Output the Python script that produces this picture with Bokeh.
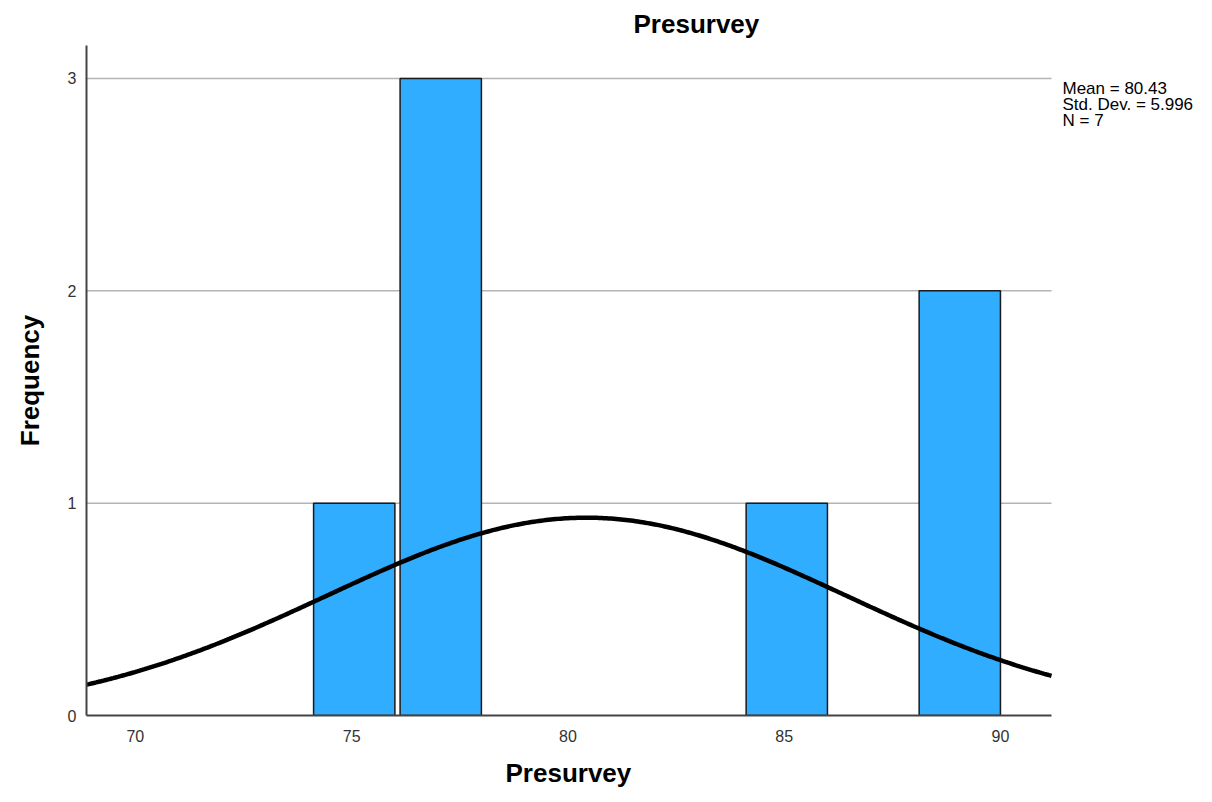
import numpy as np
from bokeh.plotting import figure
from bokeh.models import FixedTicker, Label, Title, Range1d, ColumnDataSource
from bokeh.embed import file_html
from bokeh.resources import INLINE

# Data
bin_left = [74, 76, 84, 88]
bin_right = [76, 78, 86, 90]
counts = [1, 3, 1, 2]
mean = 80.43
std_dev = 5.996
n_obs = 7
bin_width = 2
x_ticks = [70, 75, 80, 85, 90]
y_ticks = [0, 1, 2, 3]
stats_lines = ["Mean = 80.43", "Std. Dev. = 5.996", "N = 7"]

FONT = "Liberation Sans"
W, H = 1204, 802
FL, FT, FB = 86, 45, 715
X0, X1 = 68.87, 91.18          # visible axis extent
AX_RIGHT = 1051                # pixel where the x axis ends
px_per_unit = (AX_RIGHT - FL) / (X1 - X0)
x_end = X0 + (W - FL) / px_per_unit   # frame extends to the canvas edge to host the stats text

p = figure(width=W, height=H, output_backend="svg", toolbar_location=None,
           x_range=Range1d(X0, x_end), y_range=Range1d(0, 3.155),
           min_border_left=FL, min_border_right=0, min_border_top=FT, min_border_bottom=H - FB)
p.title = None
p.add_layout(Title(text="Presurvey", align="left", offset=547, standoff=10, vertical_align="top",
                   text_font=FONT, text_font_size="26px", text_font_style="bold",
                   text_color="#000000"), "above")

p.outline_line_color = None
p.background_fill_color = "white"
p.border_fill_color = "white"

# Horizontal grid lines limited to the axis extent
grid_y = [t for t in y_ticks if t > 0]
p.segment(x0=[X0] * len(grid_y), x1=[X1] * len(grid_y), y0=grid_y, y1=grid_y,
          line_color="#b4b4b4", line_width=1.5)

# Bars (SPSS draws a small gap at the left of each bar)
gap = 0.12
src = ColumnDataSource(dict(left=[l + gap for l in bin_left], right=bin_right,
                            top=counts, bottom=[0] * len(counts)))
p.quad(left="left", right="right", top="top", bottom="bottom", source=src,
       fill_color="#31adff", line_color="#1a1a1a", line_width=1.5)

# Normal curve
xs = np.linspace(X0, X1, 400)
ys = n_obs * bin_width / (std_dev * np.sqrt(2 * np.pi)) * np.exp(-0.5 * ((xs - mean) / std_dev) ** 2)
p.line(xs, ys, line_color="black", line_width=4.5)

# Axes
p.xaxis.ticker = FixedTicker(ticks=x_ticks)
p.yaxis.ticker = FixedTicker(ticks=y_ticks)
p.xaxis.bounds = (X0, X1)
for ax in (p.xaxis[0], p.yaxis[0]):
    ax.axis_line_color = "#444444"
    ax.axis_line_width = 2
    ax.major_tick_line_color = None
    ax.minor_tick_line_color = None
    ax.major_label_text_font = FONT
    ax.major_label_text_font_size = "16px"
    ax.major_label_text_color = "#333333"
    ax.axis_label_text_font = FONT
    ax.axis_label_text_font_size = "26px"
    ax.axis_label_text_font_style = "bold"
    ax.axis_label_text_color = "#000000"

p.xaxis.major_label_standoff = 8
p.yaxis.axis_label = "Frequency"
p.yaxis.major_label_standoff = 4
p.yaxis.axis_label_standoff = 20

# X-axis title, centred under the axis extent (not the wider frame)
p.add_layout(Title(text="Presurvey", align="left", offset=505 - FL, standoff=22,
                   text_font=FONT, text_font_size="26px", text_font_style="bold",
                   text_color="#000000"), "below")

p.xgrid.grid_line_color = None
p.ygrid.grid_line_color = None

# Stats text
y_per_px = 3.155 / (FB - FT)
for t, yc in zip(stats_lines, [88, 104, 120]):
    p.add_layout(Label(x=X1 + (1062 - AX_RIGHT) / px_per_unit, y=(FB - yc) * y_per_px, text=t,
                       text_font=FONT, text_font_size="17px",
                       text_baseline="middle", text_align="left", text_color="#000000"))

open("out.html", "w").write(file_html(p, INLINE))
